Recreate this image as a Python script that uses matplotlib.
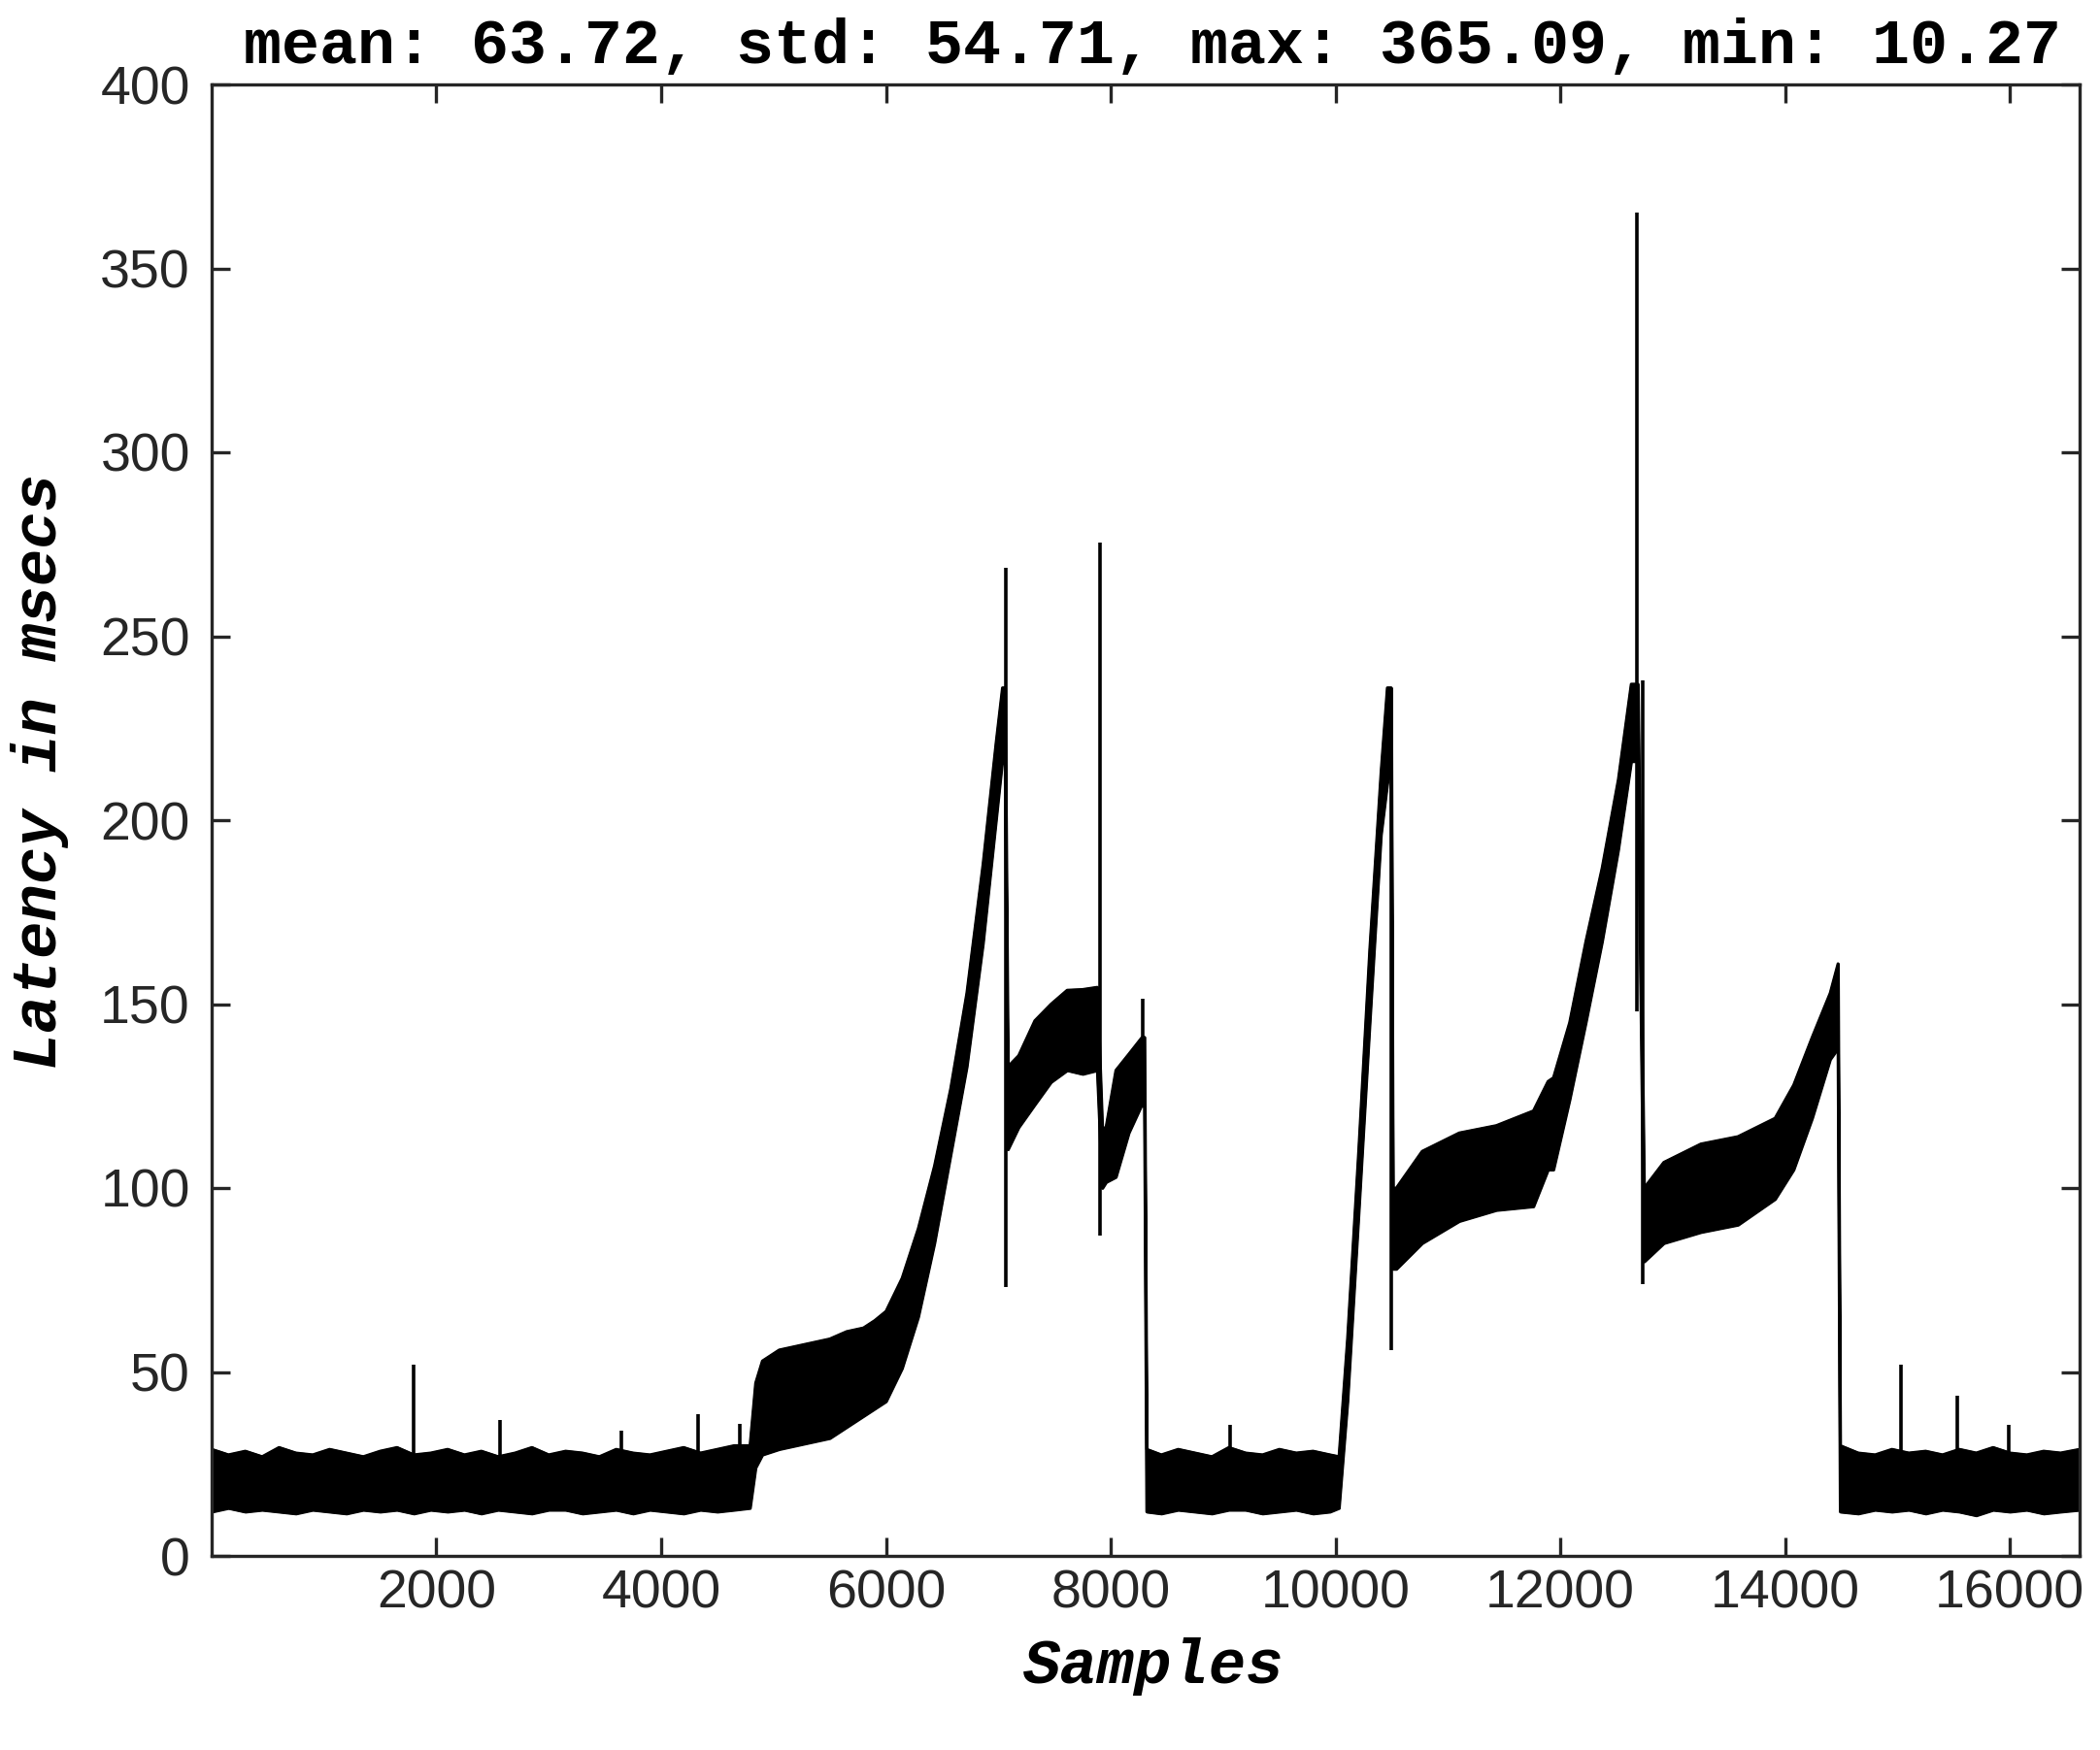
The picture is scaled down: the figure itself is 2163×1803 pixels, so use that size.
import numpy as np
import matplotlib
matplotlib.use("Agg")
from matplotlib import pyplot as plt

# latency trace, read off the chart as a lower / upper envelope of the noisy band,
# one set of lists per stretch of the run
base1_x = [1, 150, 300, 450, 600, 750, 900, 1050, 1200, 1350, 1500, 1650, 1800, 1950,
           2100, 2250, 2400, 2550, 2700, 2850, 3000, 3150, 3300, 3450, 3600, 3750,
           3900, 4050, 4200, 4350, 4500, 4650, 4790]
base1_lo = [12, 13, 12, 12.5, 12, 11.5, 12.5, 12, 11.5, 12.5, 12, 12.5, 11.5, 12.5, 12,
            12.5, 11.5, 12.5, 12, 11.5, 12.5, 12.5, 11.5, 12, 12.5, 11.5, 12.5, 12, 11.5,
            12.5, 12, 12.5, 13]
base1_hi = [29, 27.5, 28.5, 27, 29.5, 28, 27.5, 29, 28, 27, 28.5, 29.5, 27.5, 28, 29,
            27.5, 28.5, 27, 28, 29.5, 27.5, 28.5, 28, 27, 29, 28, 27.5, 28.5, 29.5, 28,
            29, 30, 30]

ramp1_x = [4840, 4900, 5050, 5200, 5350, 5500, 5650, 5800, 5900, 6000, 6143, 6287,
           6431, 6575, 6719, 6863, 6979, 7036, 7060]
ramp1_lo = [24, 27.5, 29, 30, 31, 32, 35, 38, 40, 42, 51, 65, 85, 109, 133, 166.5,
            200, 216.5, 215]
ramp1_hi = [47, 53, 56, 57, 58, 59, 61, 62, 64, 66.5, 75.5, 89, 106, 127, 153, 188,
            221, 236, 236]

band2_x = [7085, 7180, 7324, 7468, 7612, 7750, 7880, 7925, 7958, 8045, 8160, 8276, 8300]
band2_lo = [110.5, 116.5, 122.7, 128.8, 132, 131, 132, 100, 101.6, 103, 115, 122.7, 122]
band2_hi = [133, 136, 145.5, 150, 153.8, 154, 154.6, 116, 116.6, 132, 136.4, 140.9, 141]

base2_x = [8320, 8450, 8600, 8750, 8900, 9050, 9200, 9350, 9500, 9650, 9800, 9950, 10030]
base2_lo = [12, 11.5, 12.5, 12, 11.5, 12.5, 12.5, 11.5, 12, 12.5, 11.5, 12, 13]
base2_hi = [29, 27.5, 29, 28, 27, 29.5, 28, 27.5, 29, 28, 28.5, 27.5, 27]

ramp2_x = [10106, 10205, 10304, 10404, 10460, 10495]
ramp2_lo = [42, 93, 145, 196, 210, 215]
ramp2_hi = [59, 110, 165, 213, 236, 236]

band3_x = [10510, 10540, 10770, 11100, 11430, 11760, 11890, 11938, 12082, 12226,
           12371, 12515, 12630, 12690]
band3_lo = [78, 78, 85, 91, 94, 95, 105, 105, 124, 145, 167, 192, 216, 216]
band3_hi = [100, 100, 110, 115, 117, 121, 129, 130, 145, 167, 187, 211, 237, 237]

band4_x = [12745, 12920, 13250, 13580, 13910, 14075, 14240, 14400, 14470]
band4_lo = [80, 85, 88, 90, 97, 105, 119, 135, 138]
band4_hi = [100, 107, 112, 114, 119, 128, 141, 153, 161]

base3_x = [14490, 14650, 14800, 14950, 15100, 15250, 15400, 15550, 15700, 15850,
           16000, 16150, 16300, 16450, 16620]
base3_lo = [12, 11.5, 12.5, 12, 12.5, 11.5, 12.5, 12, 11, 12.5, 12, 12.5, 11.5, 12, 12.5]
base3_hi = [30, 28, 27.5, 29, 28, 28.5, 27.5, 29, 28, 29.5, 28, 27.5, 28.5, 28, 29]

# single-sample excursions
spike_x = [1800, 2570, 3650, 4330, 4700, 7065, 7901, 8285, 9060, 10500,
           12682, 12731, 15030, 15530, 15990]
spike_lo = [20, 20, 20, 20, 20, 73, 87, 122, 20, 56, 148, 74, 20, 20, 20]
spike_hi = [52, 37, 34, 38.5, 36, 268.5, 275.5, 151.5, 35.5, 236, 365.09, 238,
            52, 43.5, 35.5]

x_ticks = [2000, 4000, 6000, 8000, 10000, 12000, 14000, 16000]
y_ticks = [0, 50, 100, 150, 200, 250, 300, 350, 400]

title = "mean: 63.72, std: 54.71, max: 365.09, min: 10.27"

sample_x = base1_x + ramp1_x + band2_x + base2_x + ramp2_x + band3_x + band4_x + base3_x
latency_lo = (base1_lo + ramp1_lo + band2_lo + base2_lo + ramp2_lo + band3_lo
              + band4_lo + base3_lo)
latency_hi = (base1_hi + ramp1_hi + band2_hi + base2_hi + ramp2_hi + band3_hi
              + band4_hi + base3_hi)

axis_grey = "#262626"

fig = plt.figure(figsize=(2163 / 200, 1803 / 200), dpi=200)
ax = fig.add_axes([218 / 2163, 200 / 1803, 1924 / 2163, 1516 / 1803])

ax.fill_between(sample_x, latency_lo, latency_hi, color="black", linewidth=1.0)
ax.plot(sample_x, latency_hi, color="black", linewidth=1.0)
ax.plot(sample_x, latency_lo, color="black", linewidth=1.0)
ax.vlines(spike_x, spike_lo, spike_hi, color="black", linewidth=1.3)

ax.set_xlim(1, 16620)
ax.set_ylim(0, 400)
ax.set_xticks(x_ticks)
ax.set_yticks(y_ticks)

for side in ax.spines.values():
    side.set_color(axis_grey)
    side.set_linewidth(1.2)
ax.tick_params(direction="in", length=7, width=1.2, color=axis_grey,
               labelcolor=axis_grey, labelsize=20, top=True, right=True)
ax.tick_params(axis="x", pad=5)
ax.tick_params(axis="y", pad=8)
for lbl in ax.get_xticklabels() + ax.get_yticklabels():
    lbl.set_fontfamily("Liberation Sans")

ax.set_title(title, fontfamily="Liberation Mono", fontweight="bold",
             fontsize=23.4, pad=8, x=0.5036)
ax.set_xlabel("Samples", fontfamily="Liberation Mono", fontweight="bold",
              fontstyle="italic", fontsize=23, va="center")
ax.set_ylabel("Latency in msecs", fontfamily="Liberation Mono", fontweight="bold",
              fontstyle="italic", fontsize=23, va="center")
ax.xaxis.set_label_coords(0.5045, -0.075)
ax.yaxis.set_label_coords(-0.092, 0.533)

fig.savefig("out.png", dpi=200)
